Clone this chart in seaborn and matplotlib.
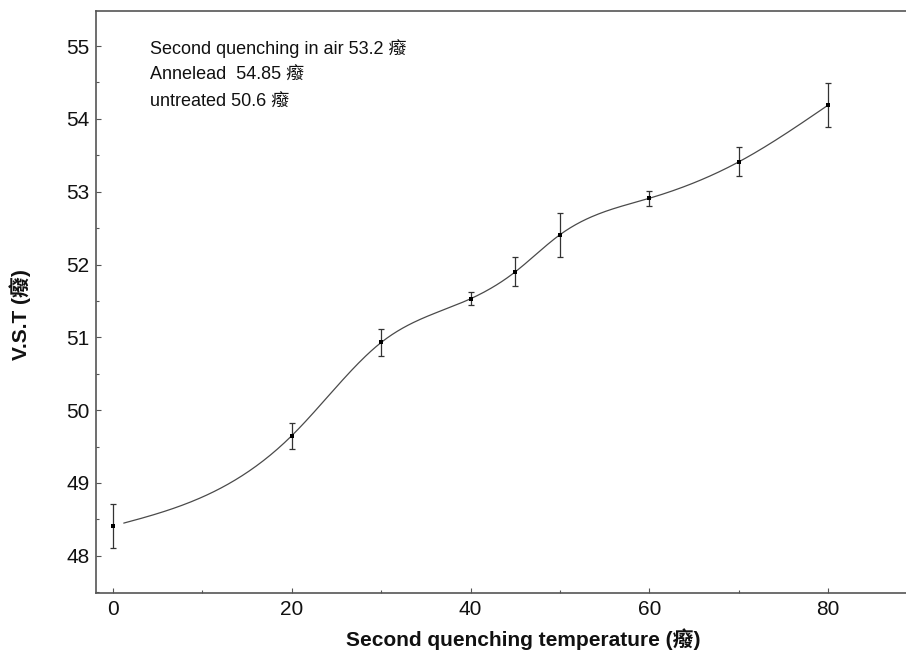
import numpy as np
import pandas as pd
import matplotlib
matplotlib.use("Agg")
import matplotlib.pyplot as plt
import seaborn as sns
from matplotlib.ticker import MultipleLocator

# ---- data ----
temps = [0, 20, 30, 40, 45, 50, 60, 70, 80]
vst = [48.41, 49.65, 50.93, 51.53, 51.90, 52.41, 52.91, 53.41, 54.19]
err = [0.30, 0.18, 0.19, 0.09, 0.20, 0.30, 0.10, 0.20, 0.30]
notes = ["Second quenching in air 53.2 癈", "Annelead  54.85 癈", "untreated 50.6 癈"]
x_ticks = [0, 20, 40, 60, 80]
y_ticks = [48, 49, 50, 51, 52, 53, 54, 55]

sns.set_theme(style="ticks")
plt.rcParams['font.family'] = ['Liberation Sans', 'Noto Sans CJK SC', 'DejaVu Sans']


def natural_spline(x, y, xs):
    x = np.asarray(x, float); y = np.asarray(y, float)
    n = len(x)
    h = np.diff(x)
    A = np.zeros((n, n)); b = np.zeros(n)
    A[0, 0] = 1; A[-1, -1] = 1
    for i in range(1, n - 1):
        A[i, i - 1] = h[i - 1]
        A[i, i] = 2 * (h[i - 1] + h[i])
        A[i, i + 1] = h[i]
        b[i] = 3 * ((y[i + 1] - y[i]) / h[i] - (y[i] - y[i - 1]) / h[i - 1])
    c = np.linalg.solve(A, b)
    out = np.empty_like(xs)
    for k, xv in enumerate(xs):
        i = min(np.searchsorted(x, xv, side='right') - 1, n - 2)
        i = max(i, 0)
        bi = (y[i + 1] - y[i]) / h[i] - h[i] * (2 * c[i] + c[i + 1]) / 3
        di = (c[i + 1] - c[i]) / (3 * h[i])
        dx = xv - x[i]
        out[k] = y[i] + bi * dx + c[i] * dx ** 2 + di * dx ** 3
    return out


xs = np.linspace(temps[0] + 1.2, temps[-1], 400)
curve = pd.DataFrame({"T": xs, "V": natural_spline(temps, vst, xs)})
pts = pd.DataFrame({"T": temps, "V": vst, "E": err})

fig = plt.figure(figsize=(9.06, 6.53), dpi=100)
ax = fig.add_axes([0.106, 0.092, 0.894, 0.891])

sns.lineplot(data=curve, x="T", y="V", ax=ax, color="#4a4a4a", lw=0.9)
ax.errorbar(pts["T"], pts["V"], yerr=pts["E"], fmt='none', ecolor="#333333",
            elinewidth=0.9, capsize=2.5, capthick=0.9)
sns.scatterplot(data=pts, x="T", y="V", ax=ax, marker='s', s=10, color='black',
                edgecolor='black', linewidth=0, zorder=5)

ax.set_xlim(-1.9, 88.7)
ax.set_ylim(47.49, 55.48)
ax.set_xticks(x_ticks)
ax.set_yticks(y_ticks)
ax.xaxis.set_minor_locator(MultipleLocator(10))
ax.yaxis.set_minor_locator(MultipleLocator(0.5))
ax.tick_params(axis='both', which='major', labelsize=15, length=3.5, width=0.8,
               color='#555555', labelcolor='#111111', direction='in', pad=4.8)
ax.tick_params(axis='both', which='minor', length=2, width=0.8, color='#555555',
               direction='in')

for s in ['left', 'bottom', 'top']:
    ax.spines[s].set_color('#555555')
    ax.spines[s].set_linewidth(1.2)
ax.spines['right'].set_visible(False)

ax.set_xlabel("Second quenching temperature (癈)", fontsize=15, fontweight='bold',
              color='#111111')
ax.xaxis.set_label_coords(0.528, -0.060)
ax.set_ylabel("V.S.T (癈)", fontsize=15, fontweight='bold', color='#111111')
ax.yaxis.set_label_coords(-0.080, 0.479)

for i, t in enumerate(notes):
    ax.text(0.067, 0.936 - i * 0.0464, t, transform=ax.transAxes, fontsize=13,
            color='#111111', va='center', ha='left')

fig.savefig("out.png", dpi=100)
